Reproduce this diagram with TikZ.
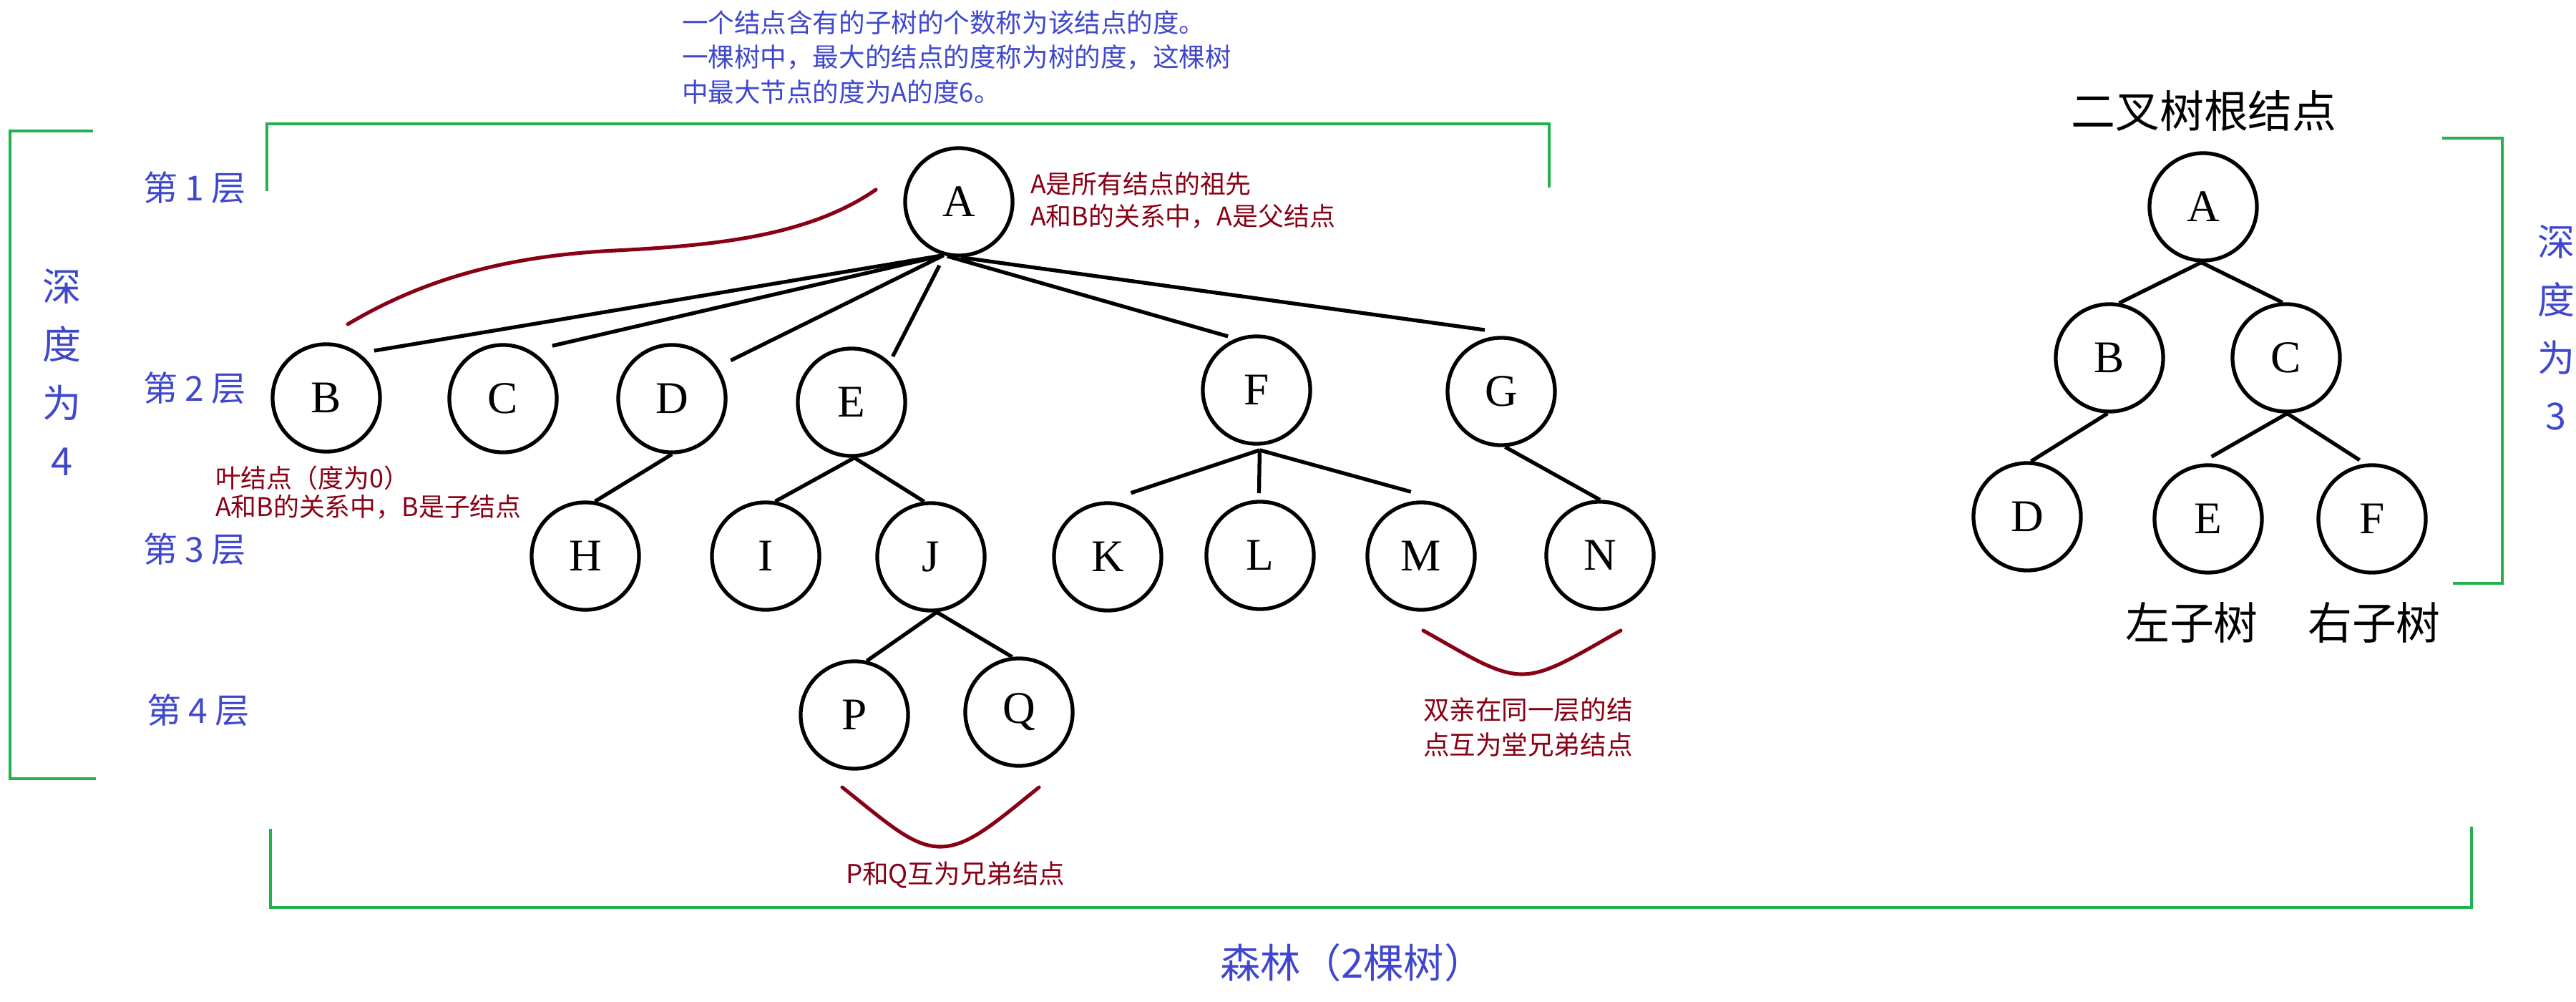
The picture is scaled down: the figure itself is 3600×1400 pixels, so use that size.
\documentclass[tikz,border=0pt]{standalone}
\usepackage{fontspec}
\setmainfont{Liberation Serif}
\newfontfamily\cjk{Noto Sans CJK SC}
\definecolor{pblue}{HTML}{3F48CC}
\definecolor{pred}{HTML}{880015}
\definecolor{pgreen}{HTML}{22B14C}
\begin{document}
\begin{tikzpicture}[x=0.01cm,y=0.01cm,
  tn/.style={circle,draw=black,line width=1.5pt,minimum size=1.50cm,inner sep=0pt,font=\fontsize{18}{20}\selectfont},
  edge/.style={line width=1.5pt,black},
  brk/.style={pgreen,line width=1.3pt},
  redcurve/.style={pred,line width=1.45pt,line cap=round},
  txtbase/.style={inner sep=0pt,outer sep=0pt},
  bluesmall/.style={txtbase,text=pblue,align=left,font=\cjk\fontsize{10.4}{13.7}\selectfont},
  lvltxt/.style={txtbase,text=pblue,font=\cjk\fontsize{13.7}{16}\selectfont},
  depthtxt/.style={txtbase,text=pblue,align=center},
  redtxt/.style={txtbase,text=pred,align=left},
  blacktxt/.style={txtbase,text=black,font=\cjk\fontsize{17.6}{20}\selectfont},
]
\useasboundingbox (0,0) rectangle (3600,-1400);

% ---------- green brackets ----------
\draw[brk] (130,-183) -- (14,-183) -- (14,-1088) -- (134,-1088);
\draw[brk] (373,-267) -- (373,-173) -- (2165,-173) -- (2165,-262);
\draw[brk] (3413,-193) -- (3497,-193) -- (3497,-815) -- (3428,-815);
\draw[brk] (378,-1158) -- (378,-1268) -- (3454,-1268) -- (3454,-1155);

% ---------- tree nodes ----------
\node[tn] (A) at (1340,-282) {A};
\node[tn] (B) at (456,-556) {B};
\node[tn] (C) at (703,-557) {C};
\node[tn] (D) at (939,-557) {D};
\node[tn] (E) at (1190,-562) {E};
\node[tn] (F) at (1756,-545) {F};
\node[tn] (G) at (2098,-547) {G};
\node[tn] (H) at (818,-777) {H};
\node[tn] (I) at (1070,-777) {I};
\node[tn] (J) at (1301,-778) {J};
\node[tn] (K) at (1548,-778) {K};
\node[tn] (L) at (1761,-776) {L};
\node[tn] (M) at (1986,-777) {M};
\node[tn] (N) at (2236,-776) {N};
\node[tn] (P) at (1194,-999) {P};
\node[tn] (Q) at (1424,-995) {Q};

% binary tree
\node[tn] (bA) at (3079,-289) {A};
\node[tn] (bB) at (2948,-500) {B};
\node[tn] (bC) at (3195,-500) {C};
\node[tn] (bD) at (2833,-722) {D};
\node[tn] (bE) at (3086,-725) {E};
\node[tn] (bF) at (3315,-725) {F};

% ---------- edges ----------
\draw[edge] (A.254) -- ([shift={(44.6:94)}]B.center);
\draw[edge] (A.254) -- ([shift={(47:101)}]C.center);
\draw[edge] (A.254) -- ([shift={(33:98)}]D.center);
\draw[edge] ([shift={(253:93)}]A.center) -- ([shift={(48:86)}]E.center);
\draw[edge] (A.258) -- ([shift={(118:85)}]F.center);
\draw[edge] (A.272) -- ([shift={(105:89)}]G.center);

\draw[edge] (D.south) -- (H.80);
\draw[edge] (E.273) -- (I.80);
\draw[edge] (E.273) -- (J.97);
\draw[edge] ([shift={(273:84)}]F.center) -- ([shift={(70:95)}]K.center);
\draw[edge] ([shift={(273:84)}]F.center) -- ([shift={(91:87)}]L.center);
\draw[edge] ([shift={(273:84)}]F.center) -- ([shift={(99:91)}]M.center);
\draw[edge] (G.274) -- (N.north);
\draw[edge] (J.276) -- (P.77);
\draw[edge] (J.276) -- (Q.97);

\draw[edge] (bA.268) -- (bB.80);
\draw[edge] (bA.268) -- (bC.94);
\draw[edge] (bB.268) -- (bD.86);
\draw[edge] (bC.271) -- ([shift={(87:87)}]bE.center);
\draw[edge] (bC.271) -- ([shift={(102:84)}]bF.center);

% ---------- red curves ----------
\draw[redcurve] (1224,-265) .. controls (1130,-330) and (1000,-343) .. (860,-350)
                .. controls (720,-357) and (600,-385) .. (486,-453);
\draw[redcurve] (1177,-1100) .. controls (1240,-1150) and (1275,-1183) .. (1314,-1183)
                .. controls (1353,-1183) and (1390,-1150) .. (1452,-1100);
\draw[redcurve] (1989,-881) .. controls (2050,-915) and (2090,-942) .. (2127,-942)
                .. controls (2164,-942) and (2204,-915) .. (2265,-881);

% ---------- texts ----------
\node[bluesmall,anchor=west] (degnote) at (953,-80)
  {一个结点含有的子树的个数称为该结点的度。\\一棵树中，最大的结点的度称为树的度，这棵树\\中最大节点的度为A的度6。};

\node[lvltxt,anchor=west] (lv1) at (200,-262) {第\kern3pt 1\kern3pt 层};
\node[lvltxt,anchor=west] (lv2) at (200,-542) {第\kern3pt 2\kern3pt 层};
\node[lvltxt,anchor=west] (lv3) at (200,-767) {第\kern3pt 3\kern3pt 层};
\node[lvltxt,anchor=west] (lv4) at (205,-992) {第\kern3pt 4\kern3pt 层};

\node[depthtxt,font=\cjk\fontsize{15.4}{23.2}\selectfont] (depth4) at (87,-520) {深\\度\\为\\4};
\node[depthtxt,font=\cjk\fontsize{14.8}{23}\selectfont] (depth3) at (3572,-458) {深\\度\\为\\3};

\node[redtxt,anchor=west,font=\cjk\fontsize{10.2}{12.8}\selectfont] (noteA) at (1440,-280)
  {A是所有结点的祖先\\A和B的关系中，A是父结点};
\node[redtxt,anchor=west,font=\cjk\fontsize{10.2}{11.4}\selectfont] (noteB) at (301,-688)
  {叶结点（度为0）\\A和B的关系中，B是子结点};
\node[redtxt,anchor=west,font=\cjk\fontsize{10.4}{13}\selectfont] (notePQ) at (1182,-1222)
  {P和Q互为兄弟结点};
\node[redtxt,anchor=west,font=\cjk\fontsize{10.4}{13.9}\selectfont] (noteMN) at (1989,-1016)
  {双亲在同一层的结\\点互为堂兄弟结点};

\node[blacktxt] (broot) at (3080,-155) {二叉树根结点};
\node[blacktxt] (lsub) at (3063,-870) {左子树};
\node[blacktxt] (rsub) at (3318,-870) {右子树};

\node[txtbase,text=pblue,font=\cjk\fontsize{16}{18}\selectfont] (forest) at (1890,-1345) {森林（2棵树）};
\end{tikzpicture}
\end{document}
